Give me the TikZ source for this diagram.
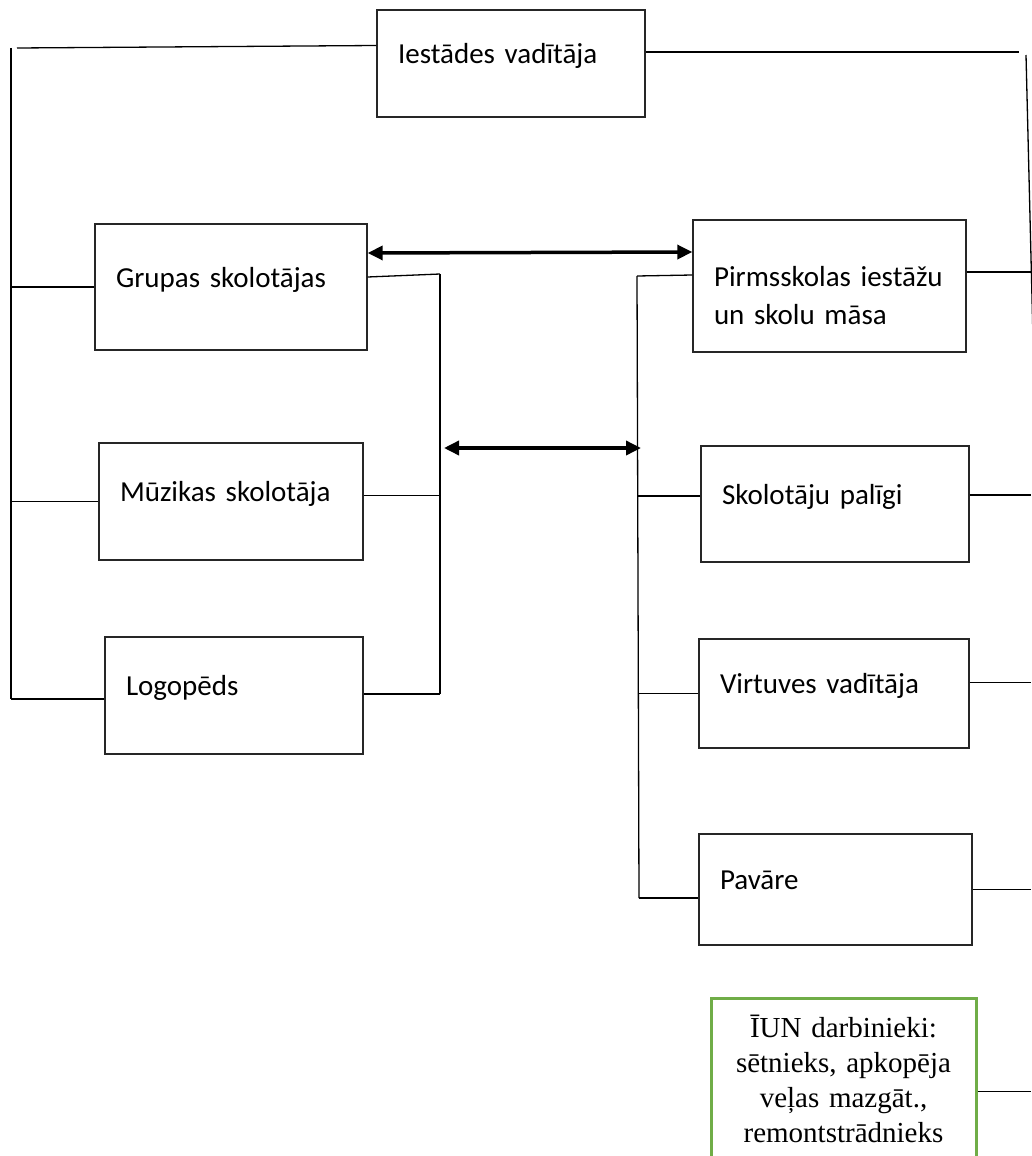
\documentclass[tikz,border=0pt]{standalone}
\usepackage{fontspec}
\setmainfont{Carlito}
\newfontfamily\serifnote{Liberation Serif}
\usetikzlibrary{arrows.meta}
\definecolor{staffgreen}{HTML}{70AD47}

\begin{document}
\begin{tikzpicture}[x=1pt,y=-1pt,
    box/.style={draw=black!85, line width=1.4pt, inner xsep=21pt, inner ysep=0pt, align=left,
                text height=20pt, text depth=20pt, font=\fontsize{29}{38}\selectfont},
    link/.style={line width=1.3pt},
    twoway/.style={line width=3.5pt, {Triangle[length=15pt,width=14pt]}-{Triangle[length=15pt,width=14pt]}}]
            \useasboundingbox (0,0) rectangle (1031,1156);

            % Draw the boxes
            \node[box, text width=226pt, minimum height=107pt] (iestades) at (511,63.5) {Iestādes vadītāja};
            \node[box, text width=230pt, minimum height=126pt] (grupas) at (231,287) {Grupas skolotājas};
            \node[box, text width=222pt, minimum height=117pt] (muzikas) at (231,501.5) {Mūzikas skolotāja};
            \node[box, text width=216pt, minimum height=117pt] (logopeds) at (234,695.5) {Logopēds};
            \node[box, text width=231pt, minimum height=132pt] (masa) at (829.5,286) {Pirmsskolas iestāžu\\un skolu māsa};
            \node[box, text width=226pt, minimum height=116pt] (paligi) at (835,504) {Skolotāju palīgi};
            \node[box, text width=228pt, minimum height=109pt] (virtuve) at (834,693.5) {Virtuves vadītāja};
            \node[box, text width=231pt, minimum height=111pt] (pavare) at (835.5,889.5) {Pavāre};
            \node[draw=staffgreen, line width=3pt, anchor=north, text width=255pt, inner xsep=5pt, inner ysep=17pt,
                  align=center, font=\serifnote\fontsize{29}{35}\selectfont] (iun) at (843.5,997)
                  {ĪUN darbinieki:\\sētnieks, apkopēja\\veļas mazgāt.,\\remontstrādnieks};

            % Draw the trunk lines
            \coordinate (ltop) at (11,48);
            \coordinate (lbot) at (11,699);
            \coordinate (mtop) at (440,274);
            \coordinate (mbot) at (440,694);
            \coordinate (ntop) at (637,276);
            \coordinate (nbot) at (639,898);
            \coordinate (rtop) at (1026,55);
            \coordinate (rend) at (1035,420);
            \coordinate (redge) at (1031,1156);
            \draw[link] (ltop) -- (lbot);
            \draw[link] (mtop) -- (mbot);
            \draw[link] (ntop) -- (nbot);
            \draw[link] (rtop) -- (rend);

            % Draw the left side
            \draw[link] ([xshift=6pt]ltop) -- ([yshift=18pt]iestades.west);
            \draw[link] (ltop |- grupas.west) -- (grupas.west);
            \draw[link] (ltop |- muzikas.west) -- (muzikas.west);
            \draw[link] (lbot) -- (lbot -| logopeds.west);

            % Draw the middle
            \draw[link] ([yshift=10pt]grupas.east) -- (mtop);
            \draw[link] ([yshift=6pt]muzikas.east) -- ([yshift=6pt]muzikas.east -| mtop);
            \draw[link] (mbot) -- (mbot -| logopeds.east);
            \draw[link] ([yshift=11pt]masa.west) -- (ntop);
            \draw[link] ([yshift=8pt]paligi.west -| ntop) -- ([yshift=8pt]paligi.west);
            \draw[link] (virtuve.west -| nbot) -- (virtuve.west);
            \draw[link] (nbot) -- (nbot -| pavare.west);

            % Draw the right side
            \draw[link] ([yshift=11.5pt]iestades.east) -- ([xshift=-7pt,yshift=3pt]rtop);
            \draw[link] ([yshift=14pt]masa.east) -- ([yshift=14pt]masa.east -| redge);
            \draw[link] ([yshift=9pt]paligi.east) -- ([yshift=9pt]paligi.east -| redge);
            \draw[link] ([yshift=11pt]virtuve.east) -- ([yshift=11pt]virtuve.east -| redge);
            \draw[link] (pavare.east) -- (pavare.east -| redge);
            \draw[link] ([yshift=-12pt]iun.east) -- ([yshift=-12pt]iun.east -| redge);

            % Draw the two-way arrows
            \draw[twoway] ([yshift=34pt]grupas.east) -- ([yshift=34pt]masa.west);
            \draw[twoway] ([xshift=4pt]mtop |- 0,448) -- ([xshift=4pt]ntop |- 0,448);

\end{tikzpicture}
\end{document}
